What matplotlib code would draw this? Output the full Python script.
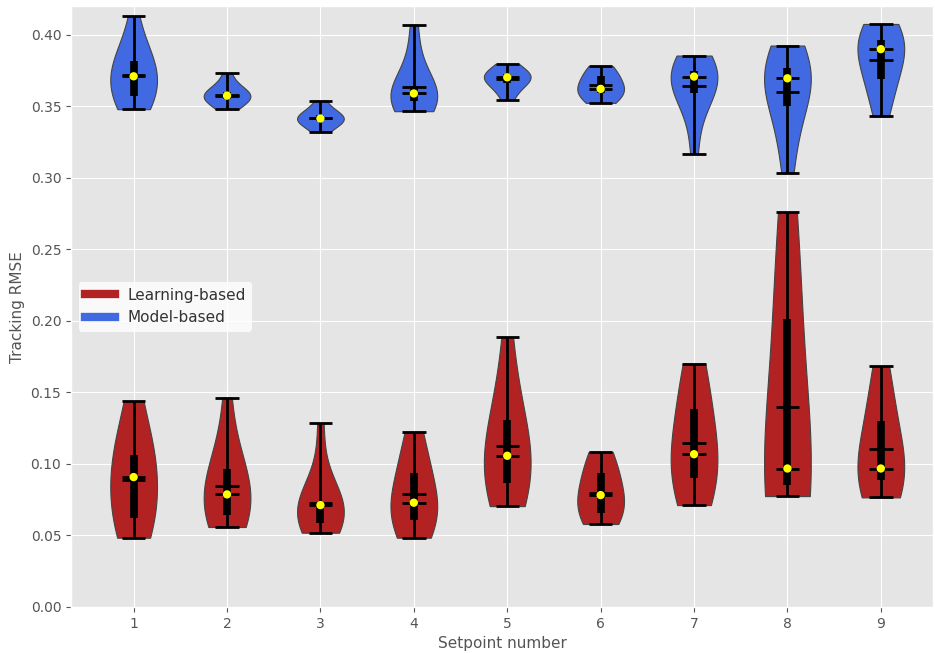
import numpy as np
import matplotlib
matplotlib.use("Agg")
import matplotlib.pyplot as plt
from matplotlib.lines import Line2D

plt.style.use("ggplot")

setpoints = [1, 2, 3, 4, 5, 6, 7, 8, 9]
series_names = ["Learning-based", "Model-based"]
series_colors = ["#B22222", "#4169E1"]

# Model-based tracking RMSE samples per setpoint
model_1 = [0.348, 0.350, 0.353, 0.356, 0.360, 0.365, 0.370, 0.372, 0.376, 0.380, 0.382, 0.388, 0.395, 0.413]
model_2 = [0.348, 0.352, 0.354, 0.356, 0.357, 0.3575, 0.358, 0.359, 0.361, 0.365, 0.373]
model_3 = [0.332, 0.336, 0.339, 0.340, 0.341, 0.3415, 0.342, 0.343, 0.345, 0.348, 0.354]
model_4 = [0.3466, 0.350, 0.352, 0.355, 0.357, 0.359, 0.360, 0.361, 0.368, 0.385, 0.407]
model_5 = [0.3545, 0.360, 0.365, 0.368, 0.369, 0.3703, 0.371, 0.372, 0.373, 0.375, 0.3797]
model_6 = [0.3524, 0.356, 0.358, 0.360, 0.361, 0.3622, 0.365, 0.370, 0.373, 0.375, 0.378]
model_7 = [0.3168, 0.345, 0.357, 0.362, 0.366, 0.3708, 0.372, 0.374, 0.376, 0.380, 0.3855]
model_8 = [0.3033, 0.325, 0.345, 0.355, 0.362, 0.3696, 0.372, 0.375, 0.378, 0.383, 0.3925]
model_9 = [0.3429, 0.358, 0.365, 0.373, 0.385, 0.390, 0.392, 0.395, 0.398, 0.402, 0.4076]

# Learning-based tracking RMSE samples per setpoint
learn_1 = [0.0484, 0.055, 0.060, 0.064, 0.078, 0.0908, 0.098, 0.104, 0.108, 0.125, 0.1439]
learn_2 = [0.0559, 0.060, 0.063, 0.0655, 0.072, 0.0787, 0.085, 0.093, 0.100, 0.110, 0.1464]
learn_3 = [0.0519, 0.056, 0.058, 0.060, 0.066, 0.0712, 0.072, 0.073, 0.074, 0.090, 0.1283]
learn_4 = [0.0484, 0.056, 0.060, 0.062, 0.068, 0.0729, 0.078, 0.090, 0.098, 0.110, 0.1224]
learn_5 = [0.0705, 0.080, 0.085, 0.0886, 0.095, 0.1057, 0.110, 0.125, 0.136, 0.150, 0.1888]
learn_6 = [0.058, 0.062, 0.064, 0.067, 0.072, 0.0782, 0.080, 0.090, 0.0976, 0.102, 0.1085]
learn_7 = [0.0712, 0.080, 0.087, 0.0928, 0.100, 0.1068, 0.115, 0.132, 0.1454, 0.160, 0.1702]
learn_8 = [0.0775, 0.080, 0.083, 0.0874, 0.092, 0.0968, 0.100, 0.190, 0.2132, 0.240, 0.276]
learn_9 = [0.0766, 0.082, 0.087, 0.091, 0.094, 0.0968, 0.108, 0.125, 0.1352, 0.150, 0.1683]

learning = [learn_1, learn_2, learn_3, learn_4, learn_5, learn_6, learn_7, learn_8, learn_9]
model = [model_1, model_2, model_3, model_4, model_5, model_6, model_7, model_8, model_9]

fig = plt.figure(figsize=(9.35, 6.53), dpi=100)
ax = fig.add_axes([0.076, 0.0705, 0.922, 0.920])


def draw(data, color):
    parts = ax.violinplot(data, positions=setpoints, widths=0.5, bw_method=0.9,
                          showmeans=True, showmedians=True, showextrema=True)
    for body in parts["bodies"]:
        body.set_facecolor(color)
        body.set_edgecolor("#444444")
        body.set_linewidth(0.8)
        body.set_alpha(1.0)
    for key in ["cbars", "cmins", "cmaxes", "cmeans", "cmedians"]:
        parts[key].set_color("black")
        parts[key].set_linewidth(2)
    q1 = [np.percentile(d, 25) for d in data]
    q3 = [np.percentile(d, 75) for d in data]
    med = [np.median(d) for d in data]
    ax.vlines(setpoints, q1, q3, color="black", linewidth=5.5, zorder=3)
    ax.scatter(setpoints, med, color="yellow", s=36, zorder=4,
               edgecolors="none", linewidths=0)


draw(learning, series_colors[0])
draw(model, series_colors[1])

ax.set_xlim(0.33, 9.56)
ax.set_ylim(0, 0.42)
ax.set_xticks(setpoints)
ax.set_xticklabels([str(s) for s in setpoints])
ax.set_yticks(np.arange(0, 0.401, 0.05))
ax.set_yticklabels([f"{v:.2f}" for v in np.arange(0, 0.401, 0.05)])
ax.tick_params(labelsize=10, colors="#555555")
ax.set_xlabel("Setpoint number", fontsize=11, color="#555555")
ax.set_ylabel("Tracking RMSE", fontsize=11, color="#555555")

handles = [Line2D([0], [0], color=c, lw=6) for c in series_colors]
leg = ax.legend(handles, series_names, loc="center left", fontsize=11,
                frameon=True, facecolor="white", edgecolor="none", framealpha=0.8)
for t in leg.get_texts():
    t.set_color("#333333")

fig.savefig("out.png", dpi=100)
